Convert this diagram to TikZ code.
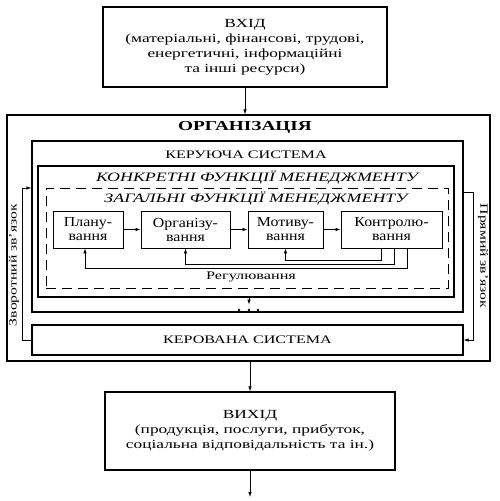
\documentclass[tikz,border=0pt]{standalone}
\usepackage{fontspec}
\setmainfont{Liberation Serif}[FakeStretch=1.15]
\newfontfamily\widefont{Liberation Serif}[FakeStretch=1.4]
\usetikzlibrary{positioning,arrows.meta}

\begin{document}
\begin{tikzpicture}[x=1pt,y=-1pt,>={Latex[length=5pt,width=3.5pt]},
    every node/.style={inner sep=0pt,font=\fontsize{12}{15}\selectfont},
    sysbox/.style={draw,line width=1.1pt,rectangle},
    boxtext/.style={align=center,font=\widefont\fontsize{12.4}{15}\selectfont},
    systitle/.style={font=\widefont\fontsize{11.5}{14}\selectfont},
    functitle/.style={font=\widefont\itshape\fontsize{12.8}{15}\selectfont},
    funcbox/.style={draw,line width=0.9pt,minimum height=37pt,align=center,font=\fontsize{13.8}{14}\selectfont},
    sidetext/.style={font=\widefont\fontsize{11.2}{13}\selectfont},
    link/.style={->,line width=0.75pt}]
      \useasboundingbox (0,0) rectangle (500,501);
      % input and output
      \node[sysbox,boxtext,minimum width=284pt,minimum height=80pt] (in) at (245,47)
        {ВХІД\\(матеріальні, фінансові, трудові,\\енергетичні, інформаційні\\та інші ресурси)};
      \node[sysbox,boxtext,minimum width=290pt,minimum height=78pt] (out) at (250,431)
        {ВИХІД\\(продукція, послуги, прибуток,\\соціальна відповідальність та ін.)};
      % nested systems
      \node[sysbox,minimum width=483pt,minimum height=246pt] (org) at (248.5,238) {};
      \node[font=\widefont\bfseries\fontsize{13.75}{16}\selectfont] (orgt) at (245,127) {ОРГАНІЗАЦІЯ};
      \node[sysbox,minimum width=431pt,minimum height=171pt] (ctrl) at (247.5,226.5) {};
      \node[systitle] (ctrlt) at (246,155) {КЕРУЮЧА СИСТЕМА};
      \node[sysbox,minimum width=416pt,minimum height=131pt] (spec) at (246,231.5) {};
      \node[functitle] (spect) at (257,177) {КОНКРЕТНІ ФУНКЦІЇ МЕНЕДЖМЕНТУ};
      \node[draw,dashed,line width=0.8pt,dash pattern=on 10pt off 6pt,minimum width=402pt,minimum height=100pt] (gen) at (247,238) {};
      \node[functitle] (gent) at (256,198) {ЗАГАЛЬНІ ФУНКЦІЇ МЕНЕДЖМЕНТУ};
      \node[sysbox,systitle,minimum width=431pt,minimum height=30pt] (man) at (247.5,340) {КЕРОВАНА СИСТЕМА};
      % general functions
      \node[funcbox,minimum width=70pt] (plan) at (88,229.5) {Плану-\\вання};
      \node[funcbox,minimum width=89pt] (orgf) at (185.5,229.5) {Організу-\\вання};
      \node[funcbox,minimum width=75pt] (motiv) at (285.5,229.5) {Мотиву-\\вання};
      \node[funcbox,minimum width=101pt] (contr) at (391.5,229.5) {Контролю-\\вання};
      \draw[link] (plan) -- (orgf);
      \draw[link] (orgf) -- (motiv);
      \draw[link] (motiv) -- (contr);
      % regulation loops
      \draw[link] ([xshift=-10pt]contr.south) -- ++(0,12) -| (motiv.south);
      \draw[link] ([xshift=3pt]contr.south) -- ++(0,16) -| (orgf.south);
      \draw[link] ([xshift=16pt]contr.south) -- ++(0,20) -| ([xshift=-3pt]plan.south);
      \node[font=\widefont\fontsize{11.6}{13}\selectfont] (reg) at (251,277) {Регулювання};
      \draw[link] (spec.south -| 249,0) -- ++(0,7);
      \foreach \dx in {239,249,258}
        \fill (\dx,310) circle (1.3pt);
      % feedback and direct links
      \draw[link] (man.west) -- ++(-9,0) |- ([yshift=38.5pt]ctrl.west);
      \node[sidetext,rotate=90] (fb) at (14,265) {Зворотний зв’язок};
      \draw[link] ([yshift=34.5pt]ctrl.east) -- ++(10,0) |- (man.east);
      \node[sidetext,rotate=-90] (ff) at (483,256) {Прямий зв’язок};
      % flow in and out
      \draw[link] (in.south) -- (in.south |- org.north);
      \draw[link] (out.north |- org.south) -- (out.north);
      \coordinate (end) at (250,497);
      \draw[link] (out.south) -- (end);
    \end{tikzpicture}
\end{document}
